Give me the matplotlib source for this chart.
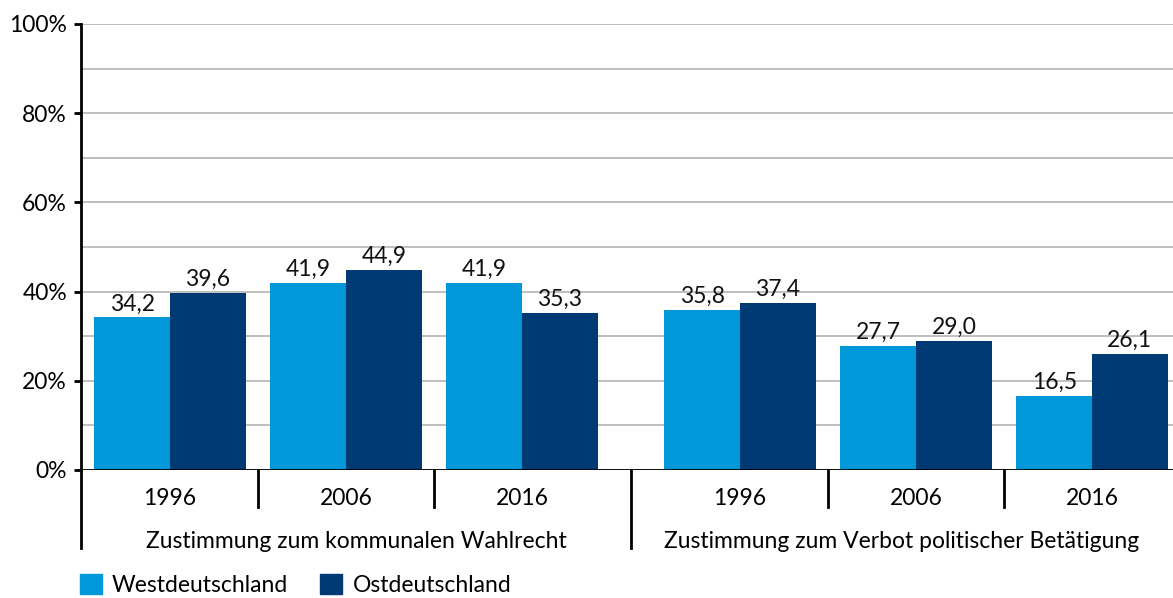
import numpy as np
import matplotlib.pyplot as plt
from matplotlib.patches import Patch
from matplotlib.transforms import blended_transform_factory

plt.rcParams['font.family'] = ['Lato', 'DejaVu Sans']

YEARS = ['1996', '2006', '2016']
GROUPS = ['Zustimmung zum kommunalen Wahlrecht', 'Zustimmung zum Verbot politischer Betätigung']
WEST = [34.2, 41.9, 41.9, 35.8, 27.7, 16.5]
EAST = [39.6, 44.9, 35.3, 37.4, 29.0, 26.1]
SERIES = ['Westdeutschland', 'Ostdeutschland']
COL_WEST = '#0098d8'
COL_EAST = '#003a75'

FS = 16.5
GAP = 0.24
BW = 0.43

n = len(YEARS)
pos = np.array([g * (n + GAP) + i for g in range(len(GROUPS)) for i in range(n)])

fig = plt.figure(figsize=(11.73, 5.98), dpi=100)
ax = fig.add_axes([81 / 1173, 1 - 470 / 598, 1 - 81 / 1173, 446 / 598])

bw = ax.bar(pos - BW / 2, WEST, BW, color=COL_WEST, zorder=2)
be = ax.bar(pos + BW / 2, EAST, BW, color=COL_EAST, zorder=2)
for bars, vals in ((bw, WEST), (be, EAST)):
    for b, v in zip(bars, vals):
        ax.text(b.get_x() + b.get_width() / 2, v + 0.7, f'{v:.1f}'.replace('.', ','),
                ha='center', va='bottom', fontsize=FS, color='#111111')

xl = (-0.506, pos[-1] + 0.46)
ax.set_xlim(*xl)
ax.set_ylim(0, 100)
ax.set_yticks(np.arange(0, 101, 10), minor=True)
ax.set_yticks(np.arange(0, 101, 20))
ax.set_yticklabels([f'{v}%' for v in range(0, 101, 20)], fontsize=FS)
ax.yaxis.grid(True, which='both', color='#b4b4b4', lw=1.2, zorder=0)
ax.tick_params(axis='y', which='major', length=5, width=2, pad=5, color='black')
ax.tick_params(axis='y', which='minor', length=0)
ax.set_xticks([])
for s in ('top', 'right', 'bottom'):
    ax.spines[s].set_visible(False)
ax.spines['left'].set_linewidth(2)
ax.axhline(0, color='black', lw=2, zorder=3)

tr = blended_transform_factory(ax.transData, ax.transAxes)
# year labels
for p, i in zip(pos, list(range(n)) * len(GROUPS)):
    ax.text(p, -0.064, YEARS[i], transform=tr, ha='center', va='center', fontsize=FS)
# separators and group labels (centred between the group separators)
bounds = [xl[0]] + [g * (n + GAP) - 0.5 - GAP / 2 for g in range(1, len(GROUPS))] + [xl[1]]
for g in range(len(GROUPS)):
    for i in range(1, n):
        x = g * (n + GAP) + i - 0.5
        ax.plot([x, x], [0, -0.083], transform=tr, color='black', lw=2, clip_on=False)
    left = bounds[g]
    ax.plot([left, left], [0, -0.175], transform=tr, color='black', lw=2, clip_on=False)
    mid = (bounds[g] + bounds[g + 1]) / 2
    ax.text(mid, -0.161, GROUPS[g], transform=tr, ha='center', va='center', fontsize=FS)

handles = [Patch(color=COL_WEST), Patch(color=COL_EAST)]
fig.legend(handles, SERIES, loc='center left', bbox_to_anchor=(80 / 1173, 1 - 585 / 598),
           ncol=2, frameon=False, fontsize=FS, handlelength=0.96, handleheight=0.96,
           handletextpad=0.44, columnspacing=1.4, borderaxespad=0, borderpad=0)

fig.savefig('out.png', dpi=100)
